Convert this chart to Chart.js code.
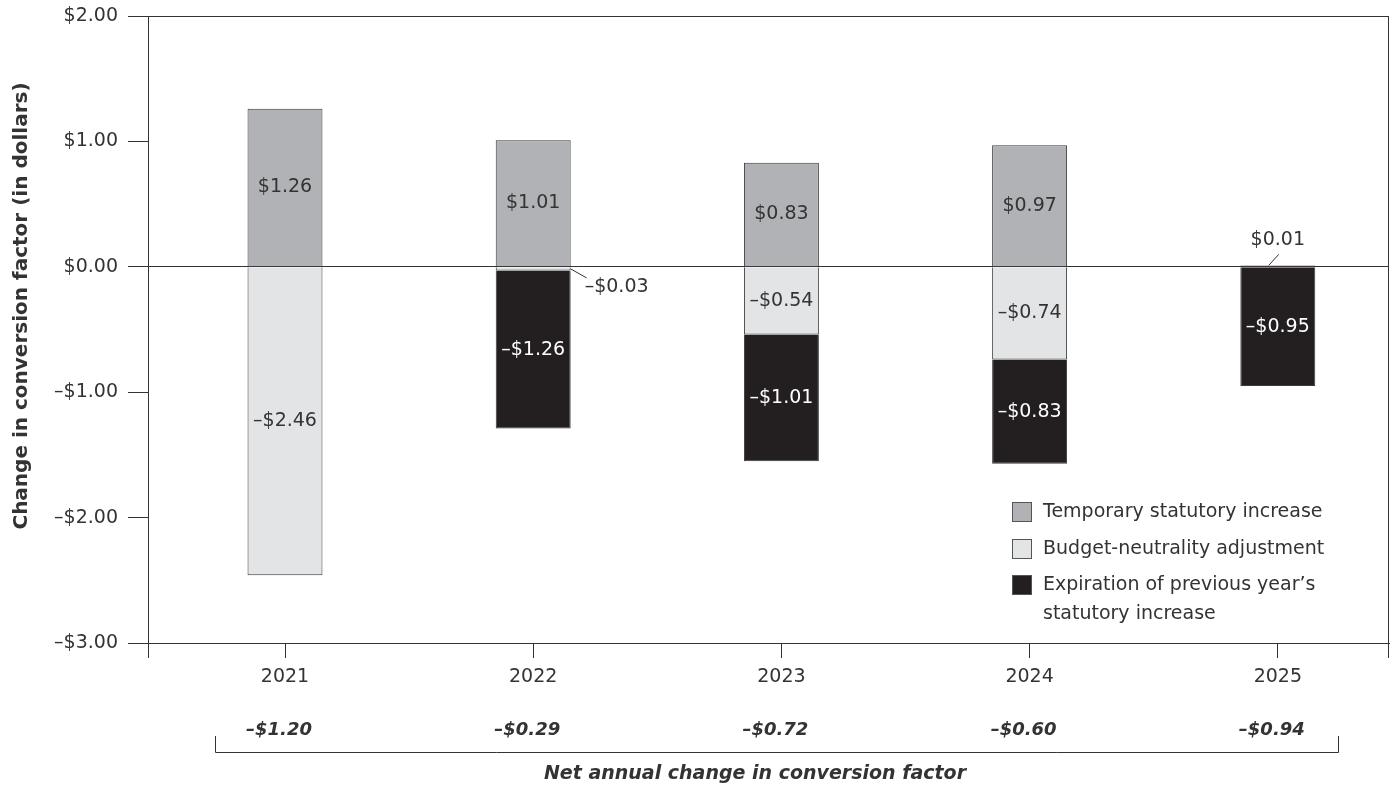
<!DOCTYPE html>
<html>
<head>
	<meta charset="utf-8">
	<title>Conversion factor changes</title>
	<script src="https://cdn.jsdelivr.net/npm/chart.js@4.4.1/dist/chart.umd.min.js"></script>
	<style>
		body { margin: 0; background: #fff; }
		#wrap { width: 1395px; height: 787px; }
	</style>
</head>
<body>
<div id="wrap"><canvas id="myChart"></canvas></div>

<script>
	const years = ['2021', '2022', '2023', '2024', '2025'];
	const temporaryIncrease = [1.26, 1.01, 0.83, 0.97, 0.01];
	const budgetNeutrality = [-2.46, -0.03, -0.54, -0.74, null];
	const expiration = [null, -1.26, -1.01, -0.83, -0.95];
	const netChange = [-1.20, -0.29, -0.72, -0.60, -0.94];
	const yTicks = [2, 1, 0, -1, -2, -3];

	const FONT = "'DejaVu Sans', sans-serif";
	const INK = '#333';

	function money(v) {
		return (v < 0 ? '\u2013$' : '$') + Math.abs(v).toFixed(2);
	}

	// year index -> {x, y} points for the linear x axis
	function points(arr) {
		return arr.map((y, i) => ({ x: i, y: y }));
	}

	// frame, end ticks, value labels, legend and the net change row
	const extras = {
		id: 'extras',
		afterDatasetsDraw(chart) {
			const ctx = chart.ctx;
			const a = chart.chartArea;
			ctx.save();
			ctx.strokeStyle = INK;
			ctx.lineWidth = 1;
			ctx.strokeRect(a.left + 0.5, a.top + 0.5, a.right - a.left - 1, a.bottom - a.top);
			ctx.beginPath();
			ctx.moveTo(a.left + 0.5, a.bottom); ctx.lineTo(a.left + 0.5, a.bottom + 15);
			ctx.moveTo(a.right - 0.5, a.bottom); ctx.lineTo(a.right - 0.5, a.bottom + 15);
			ctx.stroke();

			// value labels
			ctx.font = '19px ' + FONT;
			ctx.textBaseline = 'middle';
			chart.data.datasets.forEach((ds, i) => {
				const meta = chart.getDatasetMeta(i);
				meta.data.forEach((el, j) => {
					const v = ds.data[j].y;
					if (v === null) return;
					if (Math.abs(v) >= 0.1) {
						ctx.fillStyle = ds.labelColor;
						ctx.textAlign = 'center';
						ctx.fillText(money(v), el.x, (el.y + el.base) / 2);
					} else if (v < 0) {
						const x0 = el.x + el.width / 2;
						const y0 = (el.y + el.base) / 2;
						ctx.beginPath();
						ctx.moveTo(x0, y0); ctx.lineTo(x0 + 16, y0 + 9);
						ctx.stroke();
						ctx.fillStyle = INK;
						ctx.textAlign = 'left';
						ctx.fillText(money(v), x0 + 14, y0 + 18);
					} else {
						ctx.beginPath();
						ctx.moveTo(el.x - 9, el.base - 1); ctx.lineTo(el.x + 1, el.base - 12);
						ctx.stroke();
						ctx.fillStyle = INK;
						ctx.textAlign = 'center';
						ctx.fillText(money(v), el.x, el.base - 26);
					}
				});
			});

			// legend
			const lx = a.left + 864;
			const base = a.bottom - 131;
			const rows = [base, base + 37, base + 73];
			chart.data.datasets.forEach((ds, i) => {
				ctx.fillStyle = ds.backgroundColor;
				ctx.fillRect(lx, rows[i] - 10, 20, 20);
				ctx.strokeStyle = '#555';
				ctx.strokeRect(lx + 0.5, rows[i] - 9.5, 19, 19);
				ctx.fillStyle = INK;
				ctx.textAlign = 'left';
				ctx.font = '19px ' + FONT;
				const lines = Array.isArray(ds.label) ? ds.label : [ds.label];
				lines.forEach((t, k) => ctx.fillText(t, lx + 31, rows[i] + k * 29));
			});

			// net annual change row
			const xs = chart.scales.x;
			ctx.fillStyle = INK;
			ctx.textAlign = 'center';
			ctx.font = 'italic bold 18px ' + FONT;
			netChange.forEach((v, j) => ctx.fillText(money(v), xs.getPixelForValue(j) - 6, 730));
			ctx.strokeStyle = INK;
			ctx.beginPath();
			ctx.moveTo(215.5, 736); ctx.lineTo(215.5, 752.5); ctx.lineTo(1338.5, 752.5); ctx.lineTo(1338.5, 736);
			ctx.stroke();
			ctx.font = 'italic bold 19px ' + FONT;
			ctx.fillText('Net annual change in conversion factor', 755, 774);

			// y axis title
			ctx.translate(22, 306);
			ctx.rotate(-Math.PI / 2);
			ctx.font = 'bold 20px ' + FONT;
			ctx.fillText('Change in conversion factor (in dollars)', 0, 0);
			ctx.restore();
		}
	};

	const ctx = document.getElementById('myChart').getContext('2d');
	const chart = new Chart(ctx, {
		type: 'bar',
		data: {
			datasets: [
				{
					label: 'Temporary statutory increase',
					data: points(temporaryIncrease),
					backgroundColor: '#b1b2b6',
					labelColor: INK
				},
				{
					label: 'Budget-neutrality adjustment',
					data: points(budgetNeutrality),
					backgroundColor: '#e3e4e6',
					labelColor: INK
				},
				{
					label: ['Expiration of previous year\u2019s', 'statutory increase'],
					data: points(expiration),
					backgroundColor: '#231f20',
					labelColor: '#fff'
				}
			]
		},
		options: {
			animation: false,
			responsive: true,
			maintainAspectRatio: false,
			layout: { padding: { top: 16, right: 6, left: 0, bottom: 0 } },
			datasets: {
				bar: {
					borderColor: '#3a3a3a',
					borderWidth: 1,
					categoryPercentage: 1,
					barPercentage: 0.302
				}
			},
			plugins: {
				legend: { display: false },
				tooltip: { enabled: false }
			},
			scales: {
				x: {
					type: 'linear',
					stacked: true,
					offset: false,
					min: -0.552,
					max: 4.448,
					afterFit: s => { s.height = 144; s.paddingLeft = 0; s.paddingRight = 0; },
					afterBuildTicks: s => { s.ticks = years.map((y, i) => ({ value: i })); },
					grid: { offset: false, drawOnChartArea: false, tickLength: 15, tickColor: INK },
					border: { display: true, color: INK },
					ticks: {
						color: INK,
						font: { family: FONT, size: 19 },
						padding: 8,
						callback: v => years[v]
					}
				},
				y: {
					stacked: true,
					min: -3,
					max: 2,
					afterFit: s => { s.width = 148; s.paddingTop = 0; s.paddingBottom = 0; },
					afterBuildTicks: s => { s.ticks = yTicks.map(v => ({ value: v })); },
					grid: {
						color: c => (c.tick && c.tick.value === 0) ? INK : 'transparent',
						tickColor: INK,
						tickLength: 20
					},
					border: { display: true, color: INK },
					ticks: {
						color: INK,
						font: { family: FONT, size: 19 },
						padding: 10,
						callback: v => money(v)
					}
				}
			}
		},
		plugins: [extras]
	});
</script>
</body>
</html>
